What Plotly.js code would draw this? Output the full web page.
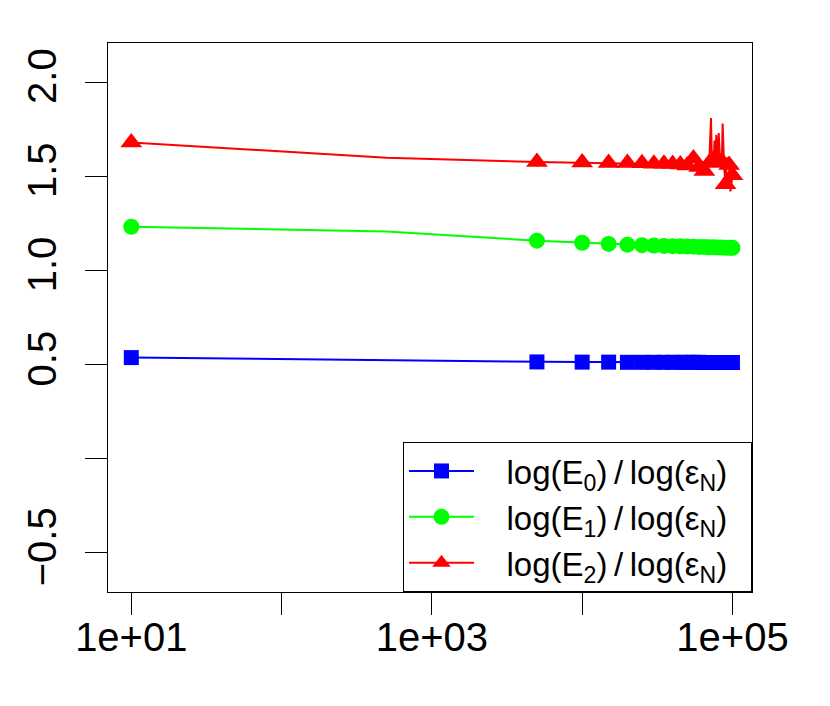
<!DOCTYPE html>
<html>
<head>
<meta charset="utf-8">
<script src="https://cdn.plot.ly/plotly-3.0.1.min.js"></script>
<style>html,body{margin:0;padding:0;background:#fff;}#chart{width:830px;height:706px;}</style>
</head>
<body>
<div id="chart"></div>
<script>
// ---- data ----
const xValues = [10, 500, 5000, 10000, 15000, 20000, 25000, 30000, 35000, 40000, 45000,
  50000, 55000, 60000, 65000, 70000, 75000, 80000, 85000, 90000, 95000, 100000];
const markedPoint = [1, 0, 1, 1, 1, 1, 1, 1, 1, 1, 1, 1, 1, 1, 1, 1, 1, 1, 1, 1, 1, 1];
const ratioE0 = [0.537, 0.522, 0.514, 0.513, 0.513, 0.512, 0.512, 0.512, 0.512, 0.512, 0.512,
  0.512, 0.512, 0.512, 0.511, 0.511, 0.511, 0.511, 0.511, 0.511, 0.511, 0.511];
const ratioE1 = [1.232, 1.207, 1.158, 1.147, 1.141, 1.137, 1.134, 1.132, 1.130, 1.129, 1.128,
  1.127, 1.126, 1.125, 1.124, 1.123, 1.123, 1.122, 1.122, 1.121, 1.121, 1.120];
// E2 series is sampled more densely near the end (unmarked points give the spikes)
const xValuesE2 = [10, 500, 5000, 10000, 15000, 20000, 25000, 30000, 35000, 40000, 45000,
  50000, 55000, 60000, 65000, 70000, 72000, 73000, 75000, 76000, 77000, 78000, 80000,
  81000, 83000, 85000, 86000, 88000, 90000, 92000, 95000, 97000, 100000];
const markedPointE2 = [1, 0, 1, 1, 1, 1, 1, 1, 1, 1, 1,
  1, 1, 1, 1, 1, 0, 0, 1, 0, 0, 0, 1,
  0, 0, 1, 0, 0, 1, 0, 1, 0, 1];
const ratioE2 = [1.680, 1.598, 1.576, 1.573, 1.571, 1.570, 1.569, 1.567, 1.566, 1.565, 1.563,
  1.558, 1.595, 1.550, 1.528, 1.570, 1.810, 1.560, 1.590, 1.690, 1.550, 1.720, 1.575,
  1.730, 1.560, 1.580, 1.780, 1.550, 1.458, 1.600, 1.560, 1.420, 1.505];
const seriesNames = [
  "\u00a0\u00a0\u00a0log(E<sub>0</sub>)\u2009/\u2009log(\u03b5<sub>N</sub>)\u00a0\u00a0",
  "\u00a0\u00a0\u00a0log(E<sub>1</sub>)\u2009/\u2009log(\u03b5<sub>N</sub>)\u00a0\u00a0",
  "\u00a0\u00a0\u00a0log(E<sub>2</sub>)\u2009/\u2009log(\u03b5<sub>N</sub>)\u00a0\u00a0"
];
const xTickVals = [10, 100, 1000, 10000, 100000];
const xTickText = ["1e+01", "", "1e+03", "", "1e+05"];
const yTickVals = [-0.5, 0, 0.5, 1.0, 1.5, 2.0];
const yTickText = ["\u22120.5", "", "0.5", "1.0", "1.5", "2.0"];

// ---- styles ----
function colors(flags, c) { return flags.map(m => m ? c : "rgba(0,0,0,0)"); }
const traces = [
  {x: xValues, y: ratioE0, name: seriesNames[0], mode: "lines+markers",
   line: {color: "#0000ff", width: 2},
   marker: {symbol: "square", color: colors(markedPoint, "#0000ff"), size: 15}},
  {x: xValues, y: ratioE1, name: seriesNames[1], mode: "lines+markers",
   line: {color: "#00ff00", width: 2},
   marker: {symbol: "circle", color: colors(markedPoint, "#00ff00"), size: 16}},
  {x: xValuesE2, y: ratioE2, name: seriesNames[2], mode: "lines+markers",
   line: {color: "#ff0000", width: 2},
   marker: {symbol: "triangle-up", color: colors(markedPointE2, "#ff0000"), size: 19}}
];

const font = {family: "Liberation Sans, Arial, Helvetica, sans-serif", color: "#000"};
const layout = {
  width: 830, height: 706,
  margin: {l: 108, r: 78, t: 43, b: 114, pad: 0},
  paper_bgcolor: "#fff", plot_bgcolor: "#fff",
  showlegend: true,
  font: font,
  xaxis: {
    type: "log", range: [0.845, 5.13],
    tickmode: "array", tickvals: xTickVals, ticktext: xTickText,
    ticks: "outside", ticklen: 22, tickwidth: 1, tickcolor: "#000",
    showgrid: false, zeroline: false,
    showline: true, mirror: true, linecolor: "#000", linewidth: 1,
    tickfont: {family: font.family, size: 40, color: "#000"},
    ticklabelstandoff: -12
  },
  yaxis: {
    range: [-0.708, 2.208],
    tickmode: "array", tickvals: yTickVals, ticktext: yTickText,
    ticks: "outside", ticklen: 22, tickwidth: 1, tickcolor: "#000",
    showgrid: false, zeroline: false,
    showline: true, mirror: true, linecolor: "#000", linewidth: 1,
    tickangle: -90,
    tickfont: {family: font.family, size: 40, color: "#000"},
    ticklabelstandoff: 13
  },
  legend: {
    x: 1, y: 0, xanchor: "right", yanchor: "bottom",
    bgcolor: "#fff", bordercolor: "#000", borderwidth: 1,
    font: {family: font.family, size: 33, color: "#000"},
    itemwidth: 65, tracegroupgap: 0
  }
};

Plotly.newPlot("chart", traces, layout, {displayModeBar: false, staticPlot: true});
</script>
</body>
</html>
